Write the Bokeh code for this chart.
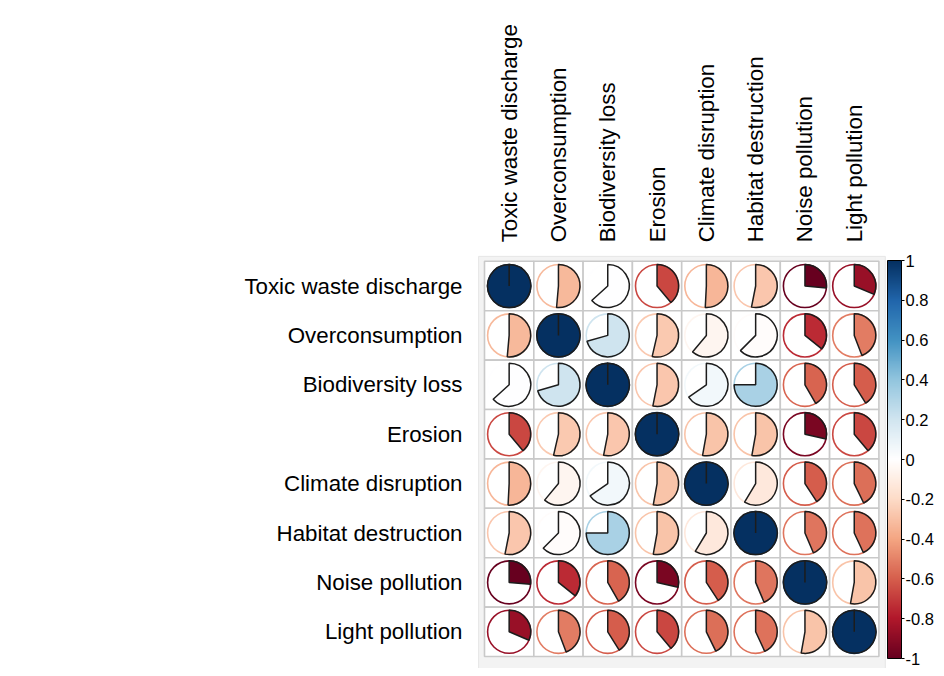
import math
from bokeh.plotting import figure
from bokeh.models import (ColumnDataSource, LinearColorMapper, ColorBar, FixedTicker,
                          CustomJSTickFormatter, Range1d)
from bokeh.core.properties import value
from bokeh.embed import file_html
from bokeh.resources import INLINE

variables = ["Toxic waste discharge", "Overconsumption", "Biodiversity loss", "Erosion",
             "Climate disruption", "Habitat destruction", "Noise pollution", "Light pollution"]

# pie share for each pair (upper triangle, row by row); diagonal is 1
toxic_row = [0.514, 0.633, 0.389, 0.508, 0.531, 0.264, 0.314]
overcons_row = [0.706, 0.536, 0.611, 0.625, 0.358, 0.442]
biodiv_row = [0.531, 0.653, 0.750, 0.417, 0.411]
erosion_row = [0.528, 0.528, 0.286, 0.389]
climate_row = [0.586, 0.408, 0.428]
habitat_row = [0.436, 0.431]
noise_row = [0.528]
upper_rows = [toxic_row, overcons_row, biodiv_row, erosion_row, climate_row, habitat_row, noise_row]

colorbar_ticks = [-1, -0.8, -0.6, -0.4, -0.2, 0, 0.2, 0.4, 0.6, 0.8, 1]
rdbu_anchors = ["#67001F", "#B2182B", "#D6604D", "#F4A582", "#FDDBC7", "#FFFFFF",
                "#D1E5F0", "#92C5DE", "#4393C3", "#2166AC", "#053061"]

FONT = "Liberation Sans"


def ramp(anchors, n):
    rgb = [tuple(int(h[k:k + 2], 16) for k in (1, 3, 5)) for h in anchors]
    out = []
    for t in range(n):
        pos = t / (n - 1) * (len(rgb) - 1)
        a = min(int(pos), len(rgb) - 2)
        f = pos - a
        c = [round(rgb[a][k] + (rgb[a + 1][k] - rgb[a][k]) * f) for k in range(3)]
        out.append("#%02x%02x%02x" % tuple(c))
    return out


palette = ramp(rdbu_anchors, 200)

n = len(variables)
M = [[1.0] * n for _ in range(n)]
for i, row in enumerate(upper_rows):
    for k, v in enumerate(row):
        j = i + 1 + k
        M[i][j] = v
        M[j][i] = v

xs, ys, vs, starts, ends = [], [], [], [], []
for i in range(n):
    for j in range(n):
        v = M[i][j]
        xs.append(j + 0.5)
        ys.append(n - i - 0.5)
        vs.append(v)
        starts.append(math.pi / 2)
        ends.append(math.pi / 2 - 2 * math.pi * min(v, 0.9999))
src = ColumnDataSource(dict(x=xs, y=ys, v=vs, start=starts, end=ends))

all_vals = [M[i][j] for i in range(n) for j in range(n)]
mapper = LinearColorMapper(palette=palette, low=min(all_vals), high=max(all_vals))

W, H = 936, 668
cell_x, cell_y = 49.3, 49.4
grid_left_px, grid_bottom_px = 484, 12
x0 = -grid_left_px / cell_x
y0 = -grid_bottom_px / cell_y

p = figure(width=W, height=H, output_backend="svg", toolbar_location=None,
           x_range=Range1d(x0, x0 + W / cell_x), y_range=Range1d(y0, y0 + H / cell_y),
           x_axis_location=None, y_axis_location=None, min_border=0,
           outline_line_color=None, background_fill_color="white", border_fill_color="white")
p.grid.visible = False

# light panel behind the matrix
p.quad(left=-0.12, right=n + 0.13, bottom=y0, top=n + 0.1,
       fill_color="#F3F3F3", line_color="#E6E6E6", line_width=1)

# cells
p.rect(x="x", y="y", width=1, height=1, source=src, fill_color="white",
       line_color="#C9C9C9", line_width=1.6)

R = 0.437
p.circle(x="x", y="y", radius=R, source=src, fill_color=None,
         line_color={"field": "v", "transform": mapper}, line_width=1.6)
p.wedge(x="x", y="y", radius=R, start_angle="start", end_angle="end", direction="clock",
        source=src, fill_color={"field": "v", "transform": mapper},
        line_color="#1c1c1c", line_width=1.5)

# row labels
rsrc = ColumnDataSource(dict(x=[-0.446] * n, y=[n - i - 0.5 for i in range(n)], t=variables))
p.text(x="x", y="y", text="t", source=rsrc, text_align="right", text_baseline="middle",
       text_font=value(FONT), text_font_size="22.3px", text_color="black")

# column labels
csrc = ColumnDataSource(dict(x=[j + 0.5 for j in range(n)], y=[n + 0.385] * n, t=variables))
p.text(x="x", y="y", text="t", source=csrc, angle=math.pi / 2, text_align="left",
       text_baseline="middle", text_font=value(FONT), text_font_size="22.3px", text_color="black")

cb_mapper = LinearColorMapper(palette=palette, low=-1, high=1)
cb = ColorBar(color_mapper=cb_mapper, ticker=FixedTicker(ticks=colorbar_ticks),
              formatter=CustomJSTickFormatter(code="return String(Math.round(tick*10)/10)"),
              location=(887, 10), width=14, height=398, padding=0,
              bar_line_color="black", bar_line_width=1,
              major_tick_in=0, major_tick_out=3, major_tick_line_color="black",
              minor_tick_line_color=None,
              major_label_text_font=FONT, major_label_text_font_size="16.5px",
              major_label_text_color="black", label_standoff=1,
              background_fill_color=None, border_line_color=None)
p.add_layout(cb, "center")

open("out.html", "w").write(file_html(p, INLINE))
